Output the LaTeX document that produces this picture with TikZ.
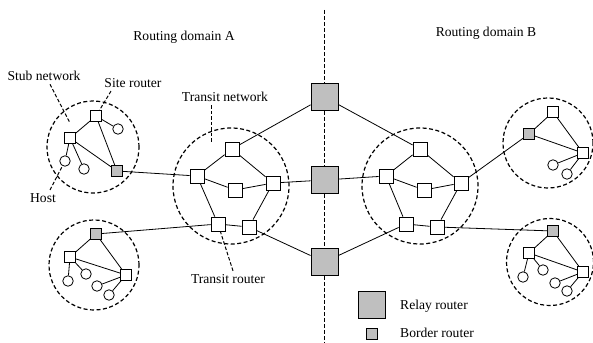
\documentclass[tikz,border=0pt]{standalone}
\usepackage{fontspec}
\setmainfont{Liberation Serif}

\begin{document}
\begin{tikzpicture}[x=1pt,y=-1pt,
		font=\fontsize{13.6}{16}\selectfont,
		link/.style={line width=0.8pt},
		lead/.style={line width=1pt,dash pattern=on 3.5pt off 2pt},
		divider/.style={line width=1.5pt,dash pattern=on 4pt off 2pt},
		net/.style={circle,draw,line width=1.2pt,dash pattern=on 4pt off 2.5pt,inner sep=0pt},
		relay/.style={rectangle,draw,fill=black!25,line width=0.9pt,minimum size=27pt,inner sep=0pt},
		trt/.style={rectangle,draw,fill=white,line width=0.8pt,minimum size=14pt,inner sep=0pt},
		srt/.style={trt,minimum size=11pt},
		brd/.style={srt,fill=black!25},
		host/.style={circle,draw,fill=white,line width=0.8pt,minimum size=10.5pt,inner sep=0pt}]
	\useasboundingbox (0,0) rectangle (593,342);
	
	% domain titles and the dividing line
	\node (domA) at (184,37) {Routing domain A};
	\node (domB) at (486,33) {Routing domain B};
	\coordinate (divtop) at (324.5,10);
	\coordinate (divbot) at (324.5,342);
	
	% relay routers on the boundary
	\node[relay] (r1) at (324.5,97) {};
	\node[relay] (r2) at (324.5,180) {};
	\node[relay] (r3) at (324.5,262) {};
	\draw[divider] (divtop) -- (r1) (r1) -- (r2) (r2) -- (r3) (r3) -- (divbot);
	
	% transit network A
	\node[net,minimum size=116pt] (tA) at (231,186) {};
	\node[trt] (a1) at (232,149) {};
	\node[trt] (a2) at (197,176) {};
	\node[trt] (a3) at (235,190) {};
	\node[trt] (a4) at (273,183) {};
	\node[trt] (a5) at (218,224) {};
	\node[trt] (a6) at (249,227) {};
	\draw[link] (a2) -- (a1) -- (a4) (a2) -- (a3) -- (a4)
		(a2) -- (a5) -- (a6) -- (a4);
	
	% transit network B
	\node[net,minimum size=116pt] (tB) at (420,186) {};
	\node[trt] (b1) at (420,149) {};
	\node[trt] (b2) at (386,176) {};
	\node[trt] (b3) at (424,190) {};
	\node[trt] (b4) at (461,183) {};
	\node[trt] (b5) at (406,224) {};
	\node[trt] (b6) at (437,227) {};
	\draw[link] (b2) -- (b1) -- (b4) (b2) -- (b3) -- (b4)
		(b2) -- (b5) -- (b6) -- (b4);
	
	% relays to transit routers
	\draw[link] (a1) -- (r1) -- (b1);
	\draw[link] (a4) -- (r2) -- (b2);
	\draw[link] (a6) -- (r3) -- (b5);
	
	% stub network, upper left
	\node[net,minimum size=92pt] (sA1) at (93,147) {};
	\node[srt] (s1) at (96,116) {};
	\node[srt] (s2) at (70,138) {};
	\node[brd] (s3) at (117,171) {};
	\node[host] (s4) at (118,129) {};
	\node[host] (s5) at (65,161) {};
	\node[host] (s6) at (84,169) {};
	\draw[link] (s2) -- (s1) -- (s3) -- (s2) (s1) -- (s4) (s2) -- (s5) (s2) -- (s6);
	\draw[link] (s3) -- (a2);
	
	% stub network, lower left
	\node[net,minimum size=90pt] (sA2) at (94,265) {};
	\node[brd] (u1) at (96,234) {};
	\node[srt] (u2) at (70,257) {};
	\node[srt] (u3) at (126,275) {};
	\node[host] (u4) at (68,281) {};
	\node[host] (u5) at (86,274) {};
	\node[host] (u6) at (97,286) {};
	\node[host] (u7) at (109,295) {};
	\draw[link] (u2) -- (u1) -- (u3) -- (u2) (u2) -- (u4) (u2) -- (u5) (u3) -- (u6) (u3) -- (u7);
	\draw[link] (u1) -- (a5);
	
	% stub network, upper right
	\node[net,minimum size=90pt] (sB1) at (548,143) {};
	\node[srt] (v1) at (553,112) {};
	\node[brd] (v2) at (529,134) {};
	\node[srt] (v3) at (583,153) {};
	\node[host] (v4) at (553,165) {};
	\node[host] (v5) at (567,174) {};
	\draw[link] (v2) -- (v1) -- (v3) -- (v2) (v3) -- (v4) (v3) -- (v5);
	\draw[link] (b4) -- (v2);
	
	% stub network, lower right
	\node[net,minimum size=87pt] (sB2) at (550,262) {};
	\node[brd] (w1) at (553,231) {};
	\node[srt] (w2) at (529,253) {};
	\node[srt] (w3) at (583,272) {};
	\node[host] (w4) at (523,277) {};
	\node[host] (w5) at (543,270) {};
	\node[host] (w6) at (555,283) {};
	\node[host] (w7) at (567,291) {};
	\draw[link] (w2) -- (w1) -- (w3) -- (w2) (w2) -- (w4) (w2) -- (w5) (w3) -- (w6) (w3) -- (w7);
	\draw[link] (b6) -- (w1);
	
	% callouts
	\node (lstub) at (44,76) {Stub network};
	\node (lsite) at (133,83) {Site router};
	\node (ltn) at (225,97) {Transit network};
	\node (lhost) at (43,198) {Host};
	\node (ltr) at (228,279) {Transit router};
	\coordinate (stubpt) at (70,123);
	\coordinate (tnpt) at (211,142);
	\draw[lead] ([xshift=6pt]lstub.south) -- (stubpt);
	\draw[lead] ([xshift=-22pt]lsite.south) -- (s1);
	\draw[lead] ([xshift=-14pt]ltn.south) -- (tnpt);
	\draw[lead] ([xshift=7pt]lhost.north) -- (s5);
	\draw[lead] ([xshift=5pt]ltr.north) -- (a5);
	
	% legend
	\node[relay] (krelay) at (372,305) {};
	\node[anchor=west,inner sep=0pt] (krelayt) at (400,306) {Relay router};
	\node[brd] (kbrd) at (372,334) {};
	\node[anchor=west,inner sep=0pt] (kbrdt) at (400,333) {Border router};
\end{tikzpicture}
\end{document}
